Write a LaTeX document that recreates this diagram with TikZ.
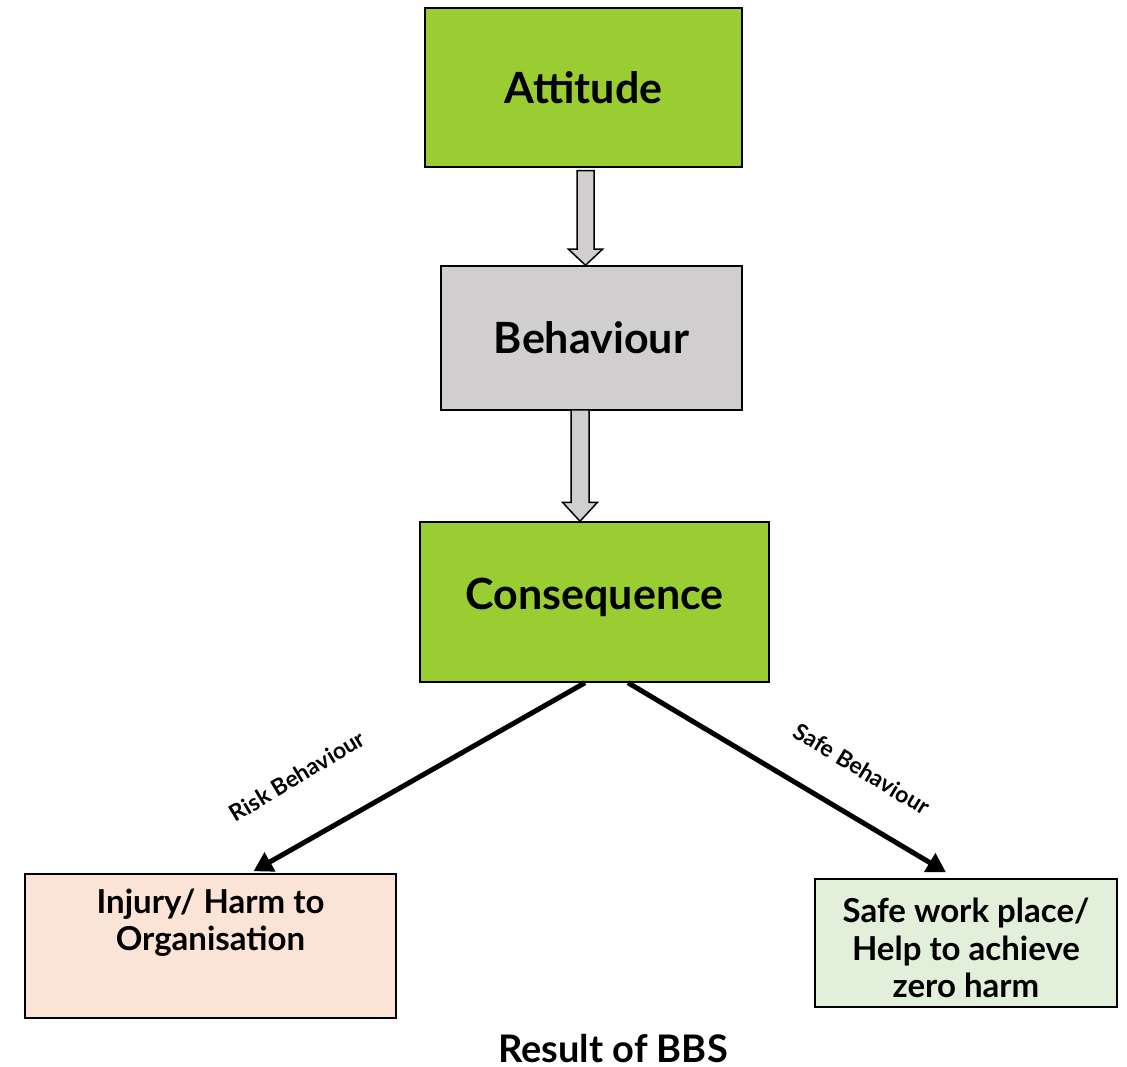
\documentclass[tikz,border=0pt]{standalone}
\usepackage{fontspec}
\setmainfont{Lato}
\usetikzlibrary{calc,arrows.meta}
\definecolor{boxgreen}{HTML}{9ACD32}
\definecolor{boxgray}{HTML}{D0CECE}
\definecolor{boxpeach}{HTML}{FBE3D6}
\definecolor{boxlight}{HTML}{E2EFDA}
\tikzset{
  box/.style={draw=black, line width=1.5pt, inner sep=0pt},
  bigtext/.style={font=\fontsize{43}{50}\selectfont\bfseries},
  smalltext/.style={font=\fontsize{33}{37.5}\selectfont\bfseries, align=center, inner sep=0pt},
  lbl/.style={font=\fontsize{23}{27}\selectfont\bfseries, inner sep=0pt},
  blockarrow/.style={draw=black, line width=1.5pt, fill=boxgray, line join=miter},
  thickarrow/.style={line width=5pt, -{Triangle[length=19pt,width=21pt]}}
}
\begin{document}
\begin{tikzpicture}[x=1pt,y=-1pt]
\useasboundingbox (0,0) rectangle (1127,1067);
\node[box, fill=boxgreen, minimum width=317pt, minimum height=159pt, bigtext] (att) at (583.5,87.5) {Attitude};
\node[box, fill=boxgray, minimum width=301pt, minimum height=144pt, bigtext] (beh) at (591.5,338) {Behaviour};
\node[box, fill=boxgreen, minimum width=349pt, minimum height=160pt] (con) at (594.5,602) {};
\node[bigtext] (cont) at ($(con)+(0,-5)$) {Consequence};
\node[box, fill=boxpeach, minimum width=371pt, minimum height=144pt] (inj) at (210.5,946) {};
\node[smalltext] (injt) at ($(inj.north)+(0,49.5)$) {Injury/ Harm to\\Organisation};
\node[box, fill=boxlight, minimum width=302pt, minimum height=128pt] (safe) at (966,943) {};
\node[smalltext] (safet) at ($(safe)+(0,5)$) {Safe work place/\\Help to achieve\\zero harm};
\node[font=\fontsize{38}{44}\selectfont\bfseries, inner sep=0pt] (title) at (613,1049) {Result of BBS};
% block arrows
\coordinate (a1t) at ($(att.south)+(2,3)$);
\coordinate (a1b) at ($(beh.north)+(-6,0)$);
\draw[blockarrow] ($(a1t)+(-8.5,0)$) -- ($(a1t)+(8.5,0)$) -- ($(a1b)+(8.5,-16)$) -- ($(a1b)+(17,-16)$) -- (a1b) -- ($(a1b)+(-17,-16)$) -- ($(a1b)+(-8.5,-16)$) -- cycle;
\coordinate (a2t) at ($(beh.south)+(-11.5,-1)$);
\coordinate (a2b) at ($(con.north)+(-14.5,0)$);
\draw[blockarrow] ($(a2t)+(-9,0)$) -- ($(a2t)+(9,0)$) -- ($(a2b)+(9,-19)$) -- ($(a2b)+(17.5,-19)$) -- (a2b) -- ($(a2b)+(-17.5,-19)$) -- ($(a2b)+(-9,-19)$) -- cycle;
% thick arrows
\draw[thickarrow] ($(con.south)+(-9.5,0)$) -- ($(inj.north)+(43,-2)$);
\draw[thickarrow] ($(con.south)+(33.5,0)$) -- ($(safe.north)+(-20,-6)$);
\node[lbl, rotate=31] (risk) at (297,776) {Risk Behaviour};
\node[lbl, rotate=-31] (safel) at (862,769) {Safe Behaviour};
\end{tikzpicture}
\end{document}
